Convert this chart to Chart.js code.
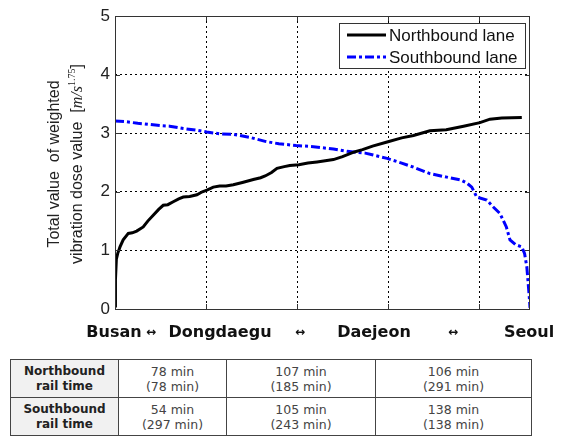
<html>
<head>
<script src="https://cdn.jsdelivr.net/npm/chart.js@4.4.0/dist/chart.umd.min.js"></script>
<style>
  body { margin:0; background:#fff; width:566px; height:439px; position:relative; overflow:hidden; }
  #wrap { position:absolute; left:0; top:0; width:566px; height:345px; }
  .cat { position:absolute; top:322px; font:bold 16px "DejaVu Sans"; color:#111; transform:translateX(-50%); white-space:nowrap; }
  .arr { position:absolute; top:325px; font:bold 12px "DejaVu Sans"; color:#111; transform:translateX(-50%); }
  table { position:absolute; left:10px; top:359px; width:522px; border-collapse:collapse; font:12.5px "DejaVu Sans"; color:#444; }
  td { border:1.5px solid #444; text-align:center; height:38px; line-height:15px; padding:0; }
  td.h { background:#f1f1f1; color:#222; font-weight:bold; width:107px; font-size:12px; }
</style>
</head>
<body>
<div id="wrap"><canvas id="chart"></canvas></div>

<span class="cat" style="left:114px">Busan</span>
<span class="arr" style="left:151px">↔</span>
<span class="cat" style="left:220px">Dongdaegu</span>
<span class="arr" style="left:300px">↔</span>
<span class="cat" style="left:374px">Daejeon</span>
<span class="arr" style="left:453px">↔</span>
<span class="cat" style="left:529px">Seoul</span>

<table>
  <tr>
    <td class="h">Northbound<br>rail time</td>
    <td style="width:107px">78 min<br>(78 min)</td>
    <td style="width:148px">107 min<br>(185 min)</td>
    <td>106 min<br>(291 min)</td>
  </tr>
  <tr>
    <td class="h">Southbound<br>rail time</td>
    <td>54 min<br>(297 min)</td>
    <td>105 min<br>(243 min)</td>
    <td>138 min<br>(138 min)</td>
  </tr>
</table>

<script>
// distance along the line (grid every 100)
var nbX = [0, 0.5, 1.5, 3, 5.5, 9, 14.6, 19, 23.8, 31, 36, 42, 48, 53, 58, 64, 70, 75, 82, 90, 96, 101, 108, 115, 122, 130, 140, 152, 160, 165, 172, 178, 186, 192, 202, 212, 222, 240, 250, 263, 272, 283, 299, 315, 328, 346, 364, 383, 401, 412, 425, 447];
var nbY = [0.05, 0.5, 0.85, 0.95, 1.06, 1.18, 1.29, 1.3, 1.33, 1.4, 1.5, 1.6, 1.7, 1.77, 1.78, 1.83, 1.88, 1.91, 1.92, 1.95, 2.0, 2.03, 2.08, 2.1, 2.1, 2.12, 2.16, 2.21, 2.24, 2.27, 2.33, 2.4, 2.43, 2.45, 2.46, 2.49, 2.51, 2.55, 2.6, 2.68, 2.72, 2.78, 2.85, 2.92, 2.96, 3.04, 3.06, 3.12, 3.18, 3.24, 3.26, 3.27];
var sbX = [0, 10, 25, 49.5, 60, 75, 90, 100.8, 115, 130, 148, 165, 180, 199, 218, 240, 255, 275, 291, 299, 315, 328, 346, 364.5, 380, 386.5, 392, 397.5, 408.5, 415, 423, 430, 434, 440, 447, 450, 452.5, 454, 455.5, 456];
var sbY = [3.21, 3.2, 3.17, 3.13, 3.12, 3.08, 3.05, 3.02, 2.99, 2.98, 2.93, 2.86, 2.82, 2.79, 2.77, 2.73, 2.69, 2.66, 2.6, 2.57, 2.49, 2.42, 2.31, 2.25, 2.2, 2.15, 2.08, 1.91, 1.86, 1.75, 1.63, 1.4, 1.18, 1.1, 1.06, 0.95, 0.72, 0.44, 0.15, 0.02];
var xTicks = [0, 100, 200, 300, 400];
var yTicks = [0, 1, 2, 3, 4, 5];
var seriesNames = ["Northbound lane", "Southbound lane"];

function pts(xs, ys) {
  var out = [];
  for (var i = 0; i < xs.length; i++) out.push({x: xs[i], y: ys[i]});
  return out;
}

var boxPlugin = {
  id: 'box',
  afterDraw: function(chart) {
    var ctx = chart.ctx, a = chart.chartArea;
    ctx.save();
    // frame + inward ticks
    ctx.strokeStyle = '#333';
    ctx.lineWidth = 1;
    ctx.setLineDash([]);
    ctx.strokeRect(a.left + 0.5, a.top + 0.5, a.right - a.left - 1, a.bottom - a.top);
    var xs = chart.scales.x, ys = chart.scales.y;
    ctx.beginPath();
    xTicks.forEach(function(v) {
      var px = Math.round(xs.getPixelForValue(v)) + 0.5;
      ctx.moveTo(px, a.bottom); ctx.lineTo(px, a.bottom - 5);
      ctx.moveTo(px, a.top); ctx.lineTo(px, a.top + 5);
    });
    yTicks.forEach(function(v) {
      var py = Math.round(ys.getPixelForValue(v)) + 0.5;
      ctx.moveTo(a.left, py); ctx.lineTo(a.left + 5, py);
      ctx.moveTo(a.right, py); ctx.lineTo(a.right - 5, py);
    });
    ctx.stroke();

    // legend box
    var lx = 339, ly = 23, lw = 186, lh = 45;
    ctx.fillStyle = '#fff';
    ctx.fillRect(lx, ly, lw, lh);
    ctx.strokeStyle = '#333';
    ctx.strokeRect(lx + 0.5, ly + 0.5, lw, lh);
    var ds = chart.data.datasets;
    var rows = [35, 57];
    ctx.font = '17px "Liberation Sans"';
    ctx.textBaseline = 'middle';
    for (var i = 0; i < ds.length; i++) {
      ctx.strokeStyle = ds[i].borderColor;
      ctx.lineWidth = 3;
      ctx.setLineDash(ds[i].borderDash || []);
      ctx.beginPath();
      ctx.moveTo(347, rows[i]); ctx.lineTo(386, rows[i]);
      ctx.stroke();
      ctx.setLineDash([]);
      ctx.fillStyle = '#111';
      ctx.fillText(ds[i].label, 389, rows[i] + 1);
    }

    // y title, two rotated lines
    ctx.fillStyle = '#222';
    ctx.textAlign = 'center';
    ctx.font = '16px "Liberation Sans"';
    ctx.translate(55, 164);
    ctx.rotate(-Math.PI / 2);
    ctx.fillText('Total value  of weighted', 0, 0);
    ctx.restore();

    ctx.save();
    ctx.translate(78, 164);
    ctx.rotate(-Math.PI / 2);
    ctx.textBaseline = 'middle';
    ctx.fillStyle = '#222';
    var parts = [
      ['vibration dose value  [', '16px "Liberation Sans"', 0],
      ['m/s', 'italic 16px "Liberation Serif"', 0],
      ['1.75', '10px "Liberation Serif"', -6],
      [']', '16px "Liberation Sans"', 0]
    ];
    var total = 0;
    parts.forEach(function(p) { ctx.font = p[1]; total += ctx.measureText(p[0]).width; });
    var cx = -total / 2;
    ctx.textAlign = 'left';
    parts.forEach(function(p) {
      ctx.font = p[1];
      ctx.fillText(p[0], cx, p[2]);
      cx += ctx.measureText(p[0]).width;
    });
    ctx.restore();
  }
};

new Chart(document.getElementById('chart'), {
  type: 'line',
  data: {
    datasets: [
      {
        label: seriesNames[0],
        data: pts(nbX, nbY),
        borderColor: '#000',
        borderWidth: 3,
        pointRadius: 0,
        tension: 0
      },
      {
        label: seriesNames[1],
        data: pts(sbX, sbY),
        borderColor: '#0000ff',
        borderWidth: 3,
        borderDash: [9, 3, 3, 3],
        pointRadius: 0,
        tension: 0
      }
    ]
  },
  options: {
    responsive: true,
    maintainAspectRatio: false,
    animation: false,
    layout: { padding: { left: 0, top: 16, right: 36, bottom: 36 } },
    plugins: { legend: { display: false }, tooltip: { enabled: false } },
    scales: {
      x: {
        type: 'linear',
        min: 0,
        max: 456,
        afterBuildTicks: function(s) { s.ticks = xTicks.map(function(v) { return {value: v}; }); },
        afterFit: function(s) { s.height = 0; },
        ticks: { display: false },
        grid: { color: '#000', lineWidth: 1, drawTicks: false },
        border: { display: false, dash: [2, 3] }
      },
      y: {
        min: 0,
        max: 5,
        afterBuildTicks: function(s) { s.ticks = yTicks.map(function(v) { return {value: v}; }); },
        afterFit: function(s) { s.width = 115; },
        ticks: { padding: 5, color: '#222', font: { family: 'Liberation Sans', size: 17 } },
        grid: { color: '#000', lineWidth: 1, drawTicks: false },
        border: { display: false, dash: [2, 3] }
      }
    }
  },
  plugins: [boxPlugin]
});
</script>
</body>
</html>
